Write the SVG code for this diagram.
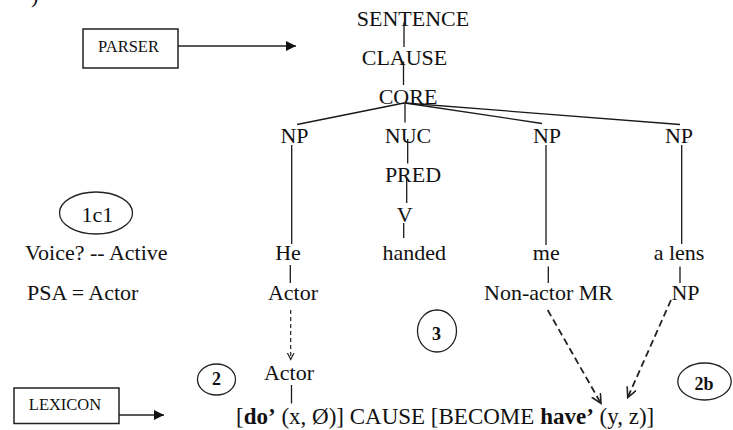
<svg xmlns="http://www.w3.org/2000/svg" width="733" height="430" viewBox="0 0 733 430">
  <defs>
    <style>
      text { font-family: "Liberation Serif", "Times New Roman", serif; fill: #111; }
      .lbl { font-size: 22px; text-anchor: middle; }
      .left { font-size: 22px; text-anchor: start; }
      .box { fill: #fff; stroke: #222; stroke-width: 1.5; }
      .boxtxt { font-size: 16.5px; text-anchor: middle; }
      .num { font-size: 18px; font-weight: bold; text-anchor: middle; }
      .ring { fill: none; stroke: #222; stroke-width: 1.3; }
      .edge { stroke: #1a1a1a; stroke-width: 1.3; fill: none; }
      .solid-arrow { stroke: #222; stroke-width: 1.5; fill: none; }
      .dash-small { stroke: #222; stroke-width: 1.2; stroke-dasharray: 4 3; fill: none; }
      .dash-big { stroke: #222; stroke-width: 1.8; stroke-dasharray: 7 4; fill: none; }
    </style>
    <marker id="filled" markerUnits="userSpaceOnUse" markerWidth="11" markerHeight="11" refX="10" refY="5" orient="auto">
      <path d="M0,0 L10,5 L0,10 Z" fill="#111"/>
    </marker>
    <marker id="vee" markerUnits="userSpaceOnUse" markerWidth="12" markerHeight="12" refX="10" refY="5" orient="auto">
      <path d="M0,0 L10,5 L0,10" fill="none" stroke="#222" stroke-width="1.6"/>
    </marker>
    <marker id="vee-small" markerUnits="userSpaceOnUse" markerWidth="9" markerHeight="9" refX="7" refY="4" orient="auto">
      <path d="M0,0.5 L7,4 L0,7.5" fill="none" stroke="#222" stroke-width="1.2"/>
    </marker>
  </defs>

  <rect width="733" height="430" fill="#fff"/>

  <!-- tail of a label that runs off the top edge -->
  <text x="31" y="3" class="left">)</text>

  <!-- tree connectors and mapping arrows -->
  <g id="connectors">
    <line class="solid-arrow" x1="178" y1="46" x2="296" y2="46" marker-end="url(#filled)"/>
    <line class="solid-arrow" x1="119" y1="415" x2="164" y2="415" marker-end="url(#filled)"/>

    <line class="edge" x1="404" y1="22.5" x2="404" y2="47"/>
    <line class="edge" x1="403.5" y1="61.5" x2="403.5" y2="85"/>
    <line class="edge" x1="405" y1="103" x2="405" y2="122.5"/>
    <line class="edge" x1="404" y1="103" x2="297" y2="124.5"/>
    <line class="edge" x1="405" y1="103" x2="542" y2="123.5"/>
    <line class="edge" x1="405" y1="103" x2="680" y2="124.5"/>
    <line class="edge" x1="407.7" y1="139" x2="407.7" y2="163.5"/>
    <line class="edge" x1="406.7" y1="178" x2="406.7" y2="203"/>
    <line class="edge" x1="403.7" y1="223" x2="403.7" y2="238"/>
    <line class="edge" x1="291.7" y1="145" x2="291.7" y2="244"/>
    <line class="edge" x1="546" y1="145" x2="546" y2="245"/>
    <line class="edge" x1="681.7" y1="145" x2="681.7" y2="244"/>
    <line class="edge" x1="290.3" y1="265" x2="290.3" y2="283"/>
    <line class="edge" x1="548.3" y1="266.5" x2="548.3" y2="283"/>
    <line class="edge" x1="680" y1="266.5" x2="680" y2="283"/>
    <line class="edge" x1="291.5" y1="385" x2="291.5" y2="403.5"/>

    <line class="dash-small" x1="290.7" y1="310" x2="290.7" y2="359.5" marker-end="url(#vee-small)"/>
    <line class="dash-big" x1="547.7" y1="310" x2="601" y2="403.5" marker-end="url(#vee)"/>
    <line class="dash-big" x1="671" y1="300" x2="627.7" y2="397.5" marker-end="url(#vee)"/>
  </g>

  <g id="parser">
    <rect class="box" x="83" y="29" width="95" height="39"/>
    <text class="boxtxt" x="128.5" y="52">PARSER</text>
  </g>
  <g id="lexicon">
    <rect class="box" x="14" y="388" width="105" height="35.5"/>
    <text class="boxtxt" x="65" y="410">LEXICON</text>
  </g>

  <g id="sentence"><text class="lbl" x="413" y="25.7">SENTENCE</text></g>
  <g id="clause"><text class="lbl" x="404.5" y="65">CLAUSE</text></g>
  <g id="core"><text class="lbl" x="408" y="104">CORE</text></g>
  <g id="np-he"><text class="lbl" x="294.5" y="143.3">NP</text></g>
  <g id="nuc"><text class="lbl" x="408" y="143.3">NUC</text></g>
  <g id="np-me"><text class="lbl" x="547" y="143.3">NP</text></g>
  <g id="np-lens"><text class="lbl" x="679" y="143.3">NP</text></g>
  <g id="pred"><text class="lbl" x="413" y="181.7">PRED</text></g>
  <g id="verb"><text class="lbl" x="404.7" y="221.7">V</text></g>
  <g id="he"><text class="lbl" x="288" y="260">He</text></g>
  <g id="handed"><text class="lbl" x="414.3" y="260">handed</text></g>
  <g id="me"><text class="lbl" x="546.3" y="260">me</text></g>
  <g id="a-lens"><text class="lbl" x="679" y="260">a lens</text></g>
  <g id="actor-role"><text class="lbl" x="293" y="300">Actor</text></g>
  <g id="nonactor-role"><text class="lbl" x="548.5" y="300">Non-actor MR</text></g>
  <g id="np-role"><text class="lbl" x="685.5" y="300">NP</text></g>
  <g id="actor-lex"><text class="lbl" x="289" y="379.5">Actor</text></g>

  <g id="logical-structure">
    <text class="left" x="236" y="424" style="font-size:23px">[<tspan font-weight="bold">do’</tspan> (x, Ø)] CAUSE [BECOME <tspan font-weight="bold">have’</tspan> (y, z)]</text>
  </g>

  <g id="step-1c1">
    <ellipse class="ring" cx="96" cy="213" rx="36.5" ry="21"/>
    <text class="lbl" x="97.5" y="221.7">1c1</text>
  </g>
  <g id="voice"><text class="left" x="25" y="260">Voice? -- Active</text></g>
  <g id="psa"><text class="left" x="27" y="300">PSA = Actor</text></g>

  <g id="step-2">
    <ellipse class="ring" cx="216.5" cy="379.5" rx="19" ry="15.5"/>
    <text class="num" x="216.5" y="384.5">2</text>
  </g>
  <g id="step-3">
    <ellipse class="ring" cx="437" cy="331" rx="19.5" ry="21"/>
    <text class="num" x="436.5" y="340">3</text>
  </g>
  <g id="step-2b">
    <ellipse class="ring" cx="704.5" cy="381.5" rx="26.7" ry="18.5"/>
    <text class="num" x="704" y="390">2b</text>
  </g>
</svg>
